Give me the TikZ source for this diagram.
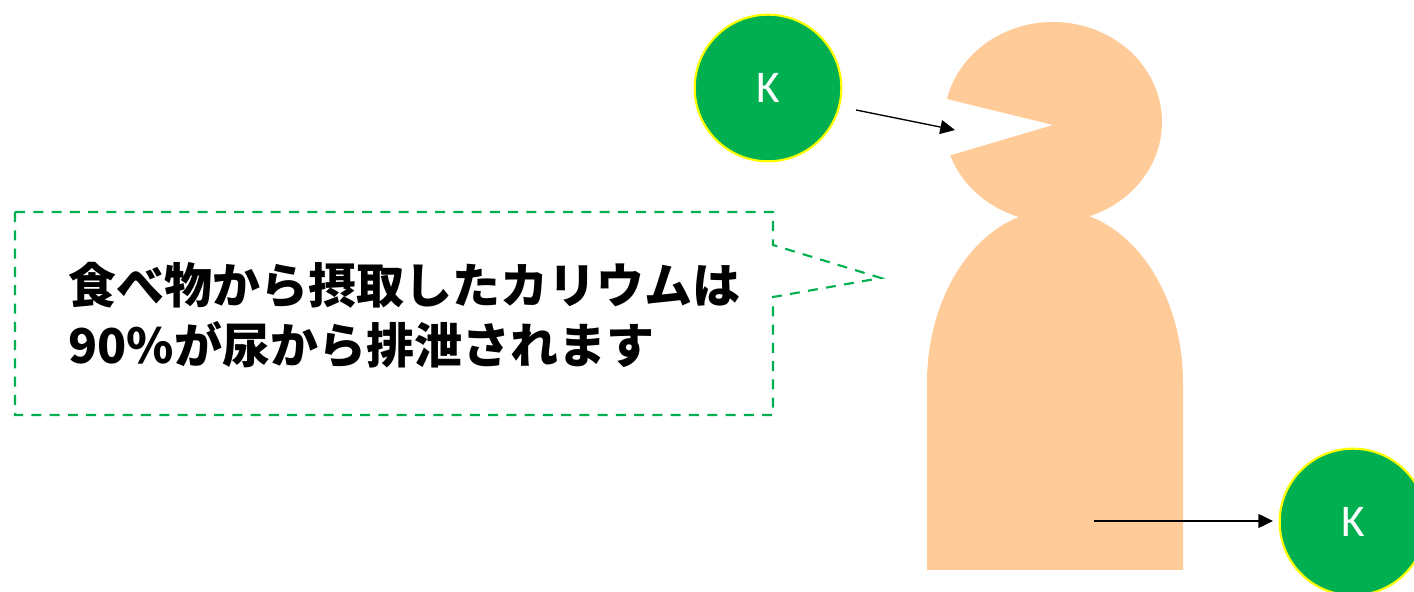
\documentclass[tikz,border=0pt]{standalone}
\usepackage{fontspec}
\setmainfont{Carlito}
\newfontfamily\cjk{Noto Sans CJK JP}
\usetikzlibrary{arrows.meta,calc}
\definecolor{skin}{HTML}{FFCC99}
\definecolor{kgreen}{HTML}{00B050}
\definecolor{kyellow}{HTML}{FFFF00}
\begin{document}
\begin{tikzpicture}[x=0.75pt,y=0.75pt,
  ion/.style={circle,fill=kgreen,draw=kyellow,line width=1.6pt,minimum size=110pt,
    inner sep=0pt,text=white,font=\fontsize{34pt}{34pt}\selectfont},
  flow/.style={line width=1pt,-{Triangle[length=11pt,width=10.5pt]}},
  callout/.style={draw=kgreen,line width=1.6pt,dash pattern=on 7.5pt off 6.2pt},
  msg/.style={anchor=west,align=left,inner sep=0pt,
    font=\cjk\bfseries\fontsize{36pt}{45pt}\selectfont}]
\useasboundingbox (0,0) rectangle (1414,592);
\clip (0,0) rectangle (1414,592);

% body: rounded top on a straight block
\fill[skin] (927,22) -- (927,209)
  arc[start angle=180,end angle=0,x radius=128,y radius=173] -- (1183,22) -- cycle;
% head with an open mouth
\coordinate (mouth) at (1053,467);
\fill[skin] (mouth) -- ($(1053,470)+(166.7:109 and 100)$)
  arc[start angle=166.7,end angle=-160.5,x radius=109,y radius=100] -- cycle;

% potassium ions
\node[ion] (kin) at (768,504) {K};
\node[ion] (kout) at (1353,70) {K};

% intake and excretion
\coordinate (in0) at (856,482);
\coordinate (in1) at (955,462);
\draw[flow] (in0) -- (in1);
\coordinate (out0) at (1094,71);
\coordinate (out1) at (1273,71);
\draw[flow] (out0) -- (out1);

% speech callout
\draw[callout] (15,380) -- (773,380) -- (773,347) -- (881,314) -- (773,295)
  -- (773,177) -- (15,177) -- cycle;
\node[msg] (note) at (68,277) {食べ物から摂取したカリウムは\\90\%が尿から排泄されます};
\end{tikzpicture}
\end{document}
